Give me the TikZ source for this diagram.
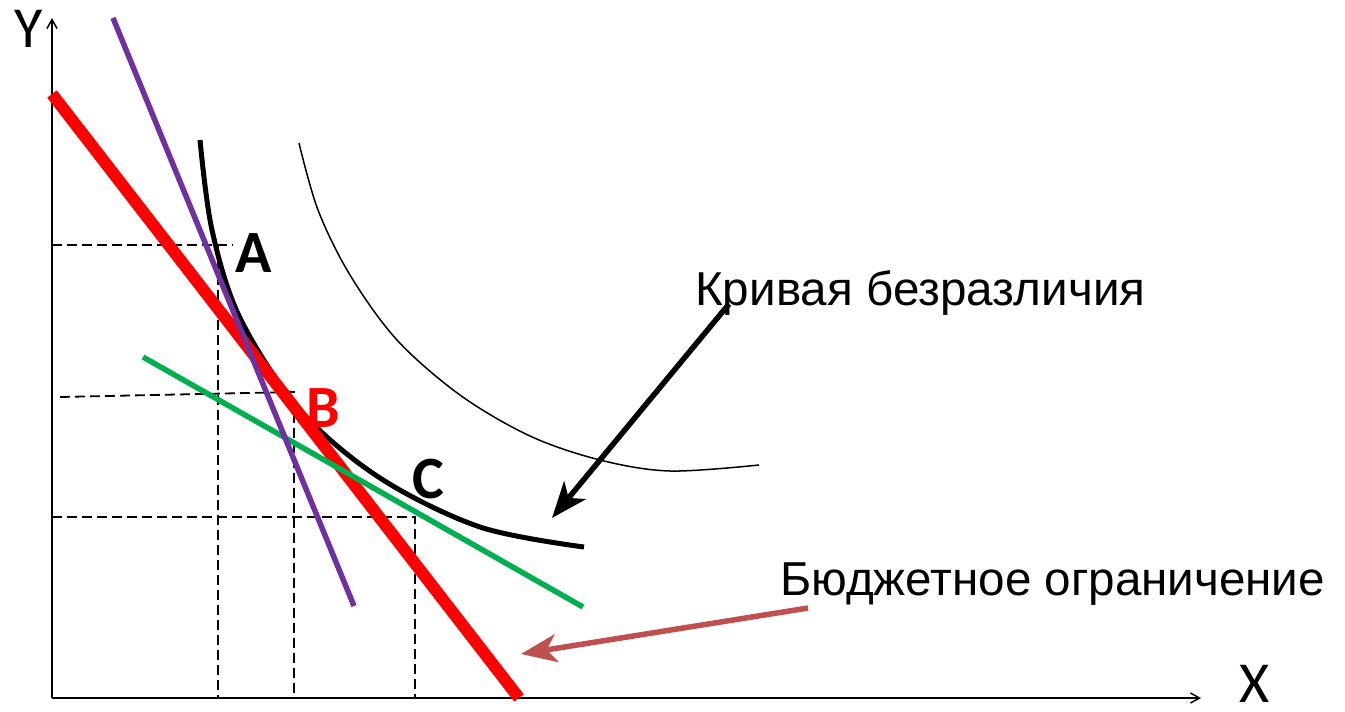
\documentclass[tikz,border=0pt]{standalone}
\usepackage{fontspec}
\setmainfont{Liberation Sans}
\newfontfamily\calfont{Carlito}
\usetikzlibrary{arrows.meta}
\definecolor{budred}{RGB}{255,0,0}
\definecolor{purp}{RGB}{112,48,160}
\definecolor{grn}{RGB}{0,176,80}
\definecolor{brn}{RGB}{192,80,77}
\tikzset{
  axis/.style={line width=2pt, -{Straight Barb[length=9pt,width=10pt,line width=1.5pt]}},
  guide/.style={line width=1.8pt, dash pattern=on 10pt off 5pt},
  bigarrow/.style={line width=5.5pt, -{Stealth[length=36pt,width=28pt,inset=10pt]}},
  letter/.style={font=\calfont\bfseries\fontsize{60}{60}\selectfont, inner sep=0pt},
  axlabel/.style={font=\calfont\fontsize{58}{58}\selectfont, inner sep=0pt},
  caption/.style={font=\fontsize{47.6}{52}\selectfont, inner sep=0pt, anchor=base west}
}
\begin{document}
\begin{tikzpicture}[x=1pt,y=-1pt]
\useasboundingbox (0,0) rectangle (1345,712);
% axes
\coordinate (O) at (52,698);
\coordinate (Ytip) at (52,18);
\coordinate (Xtip) at (1201,698);
\draw[axis] (O) -- (Ytip);
\draw[axis] (O) -- (Xtip);
\node[axlabel] (Y) at (29,29) {Y};
\node[axlabel] (X) at (1255,684) {X};
% dashed guides
\coordinate (a1) at (52,245); \coordinate (a2) at (233,245);
\coordinate (a3) at (218,245); \coordinate (a4) at (218,698);
\coordinate (b1) at (60,397); \coordinate (b2) at (294,392); \coordinate (b3) at (294,698);
\coordinate (c1) at (52,517); \coordinate (c2) at (415,517); \coordinate (c3) at (415,698);
\draw[guide] (a1) -- (a2);
\draw[guide] (a3) -- (a4);
\draw[guide] (b1) -- (b2) -- (b3);
\draw[guide] (c1) -- (c2) -- (c3);
% thin indifference curve
\draw[line width=1.5pt] plot[smooth, tension=0.55] coordinates {(299,143) (318,210) (350,275) (397,340) (460,395) (530,436) (600,460) (670,471) (759,465)};
% thick indifference curve
\draw[line width=5pt] plot[smooth, tension=0.55] coordinates {(200,140) (212,230) (240,318) (300,410) (380,478) (480,527) (584,547)};
% budget lines
\coordinate (r1) at (52,94); \coordinate (r2) at (519,698);
\draw[budred, line width=12pt] (r1) -- (r2);
\coordinate (g1) at (143,357); \coordinate (g2) at (583,607);
\draw[grn, line width=5.5pt] (g1) -- (g2);
\coordinate (p1) at (113,18); \coordinate (p2) at (354,606);
\draw[purp, line width=5.5pt] (p1) -- (p2);
% labels
\node[letter] (A) at (254,253) {A};
\node[letter, text=budred] (B) at (323,408) {B};
\node[letter] (C) at (428,479) {C};
\node[caption] (kb) at (695,305) {Кривая безразличия};
\node[caption] (bo) at (780,595) {Бюджетное ограничение};
% pointer arrows
\coordinate (k1) at (729,304); \coordinate (k2) at (552,518);
\draw[bigarrow] (k1) -- (k2);
\coordinate (o1) at (808,608); \coordinate (o2) at (521,654);
\draw[bigarrow, brn] (o1) -- (o2);
\end{tikzpicture}
\end{document}
